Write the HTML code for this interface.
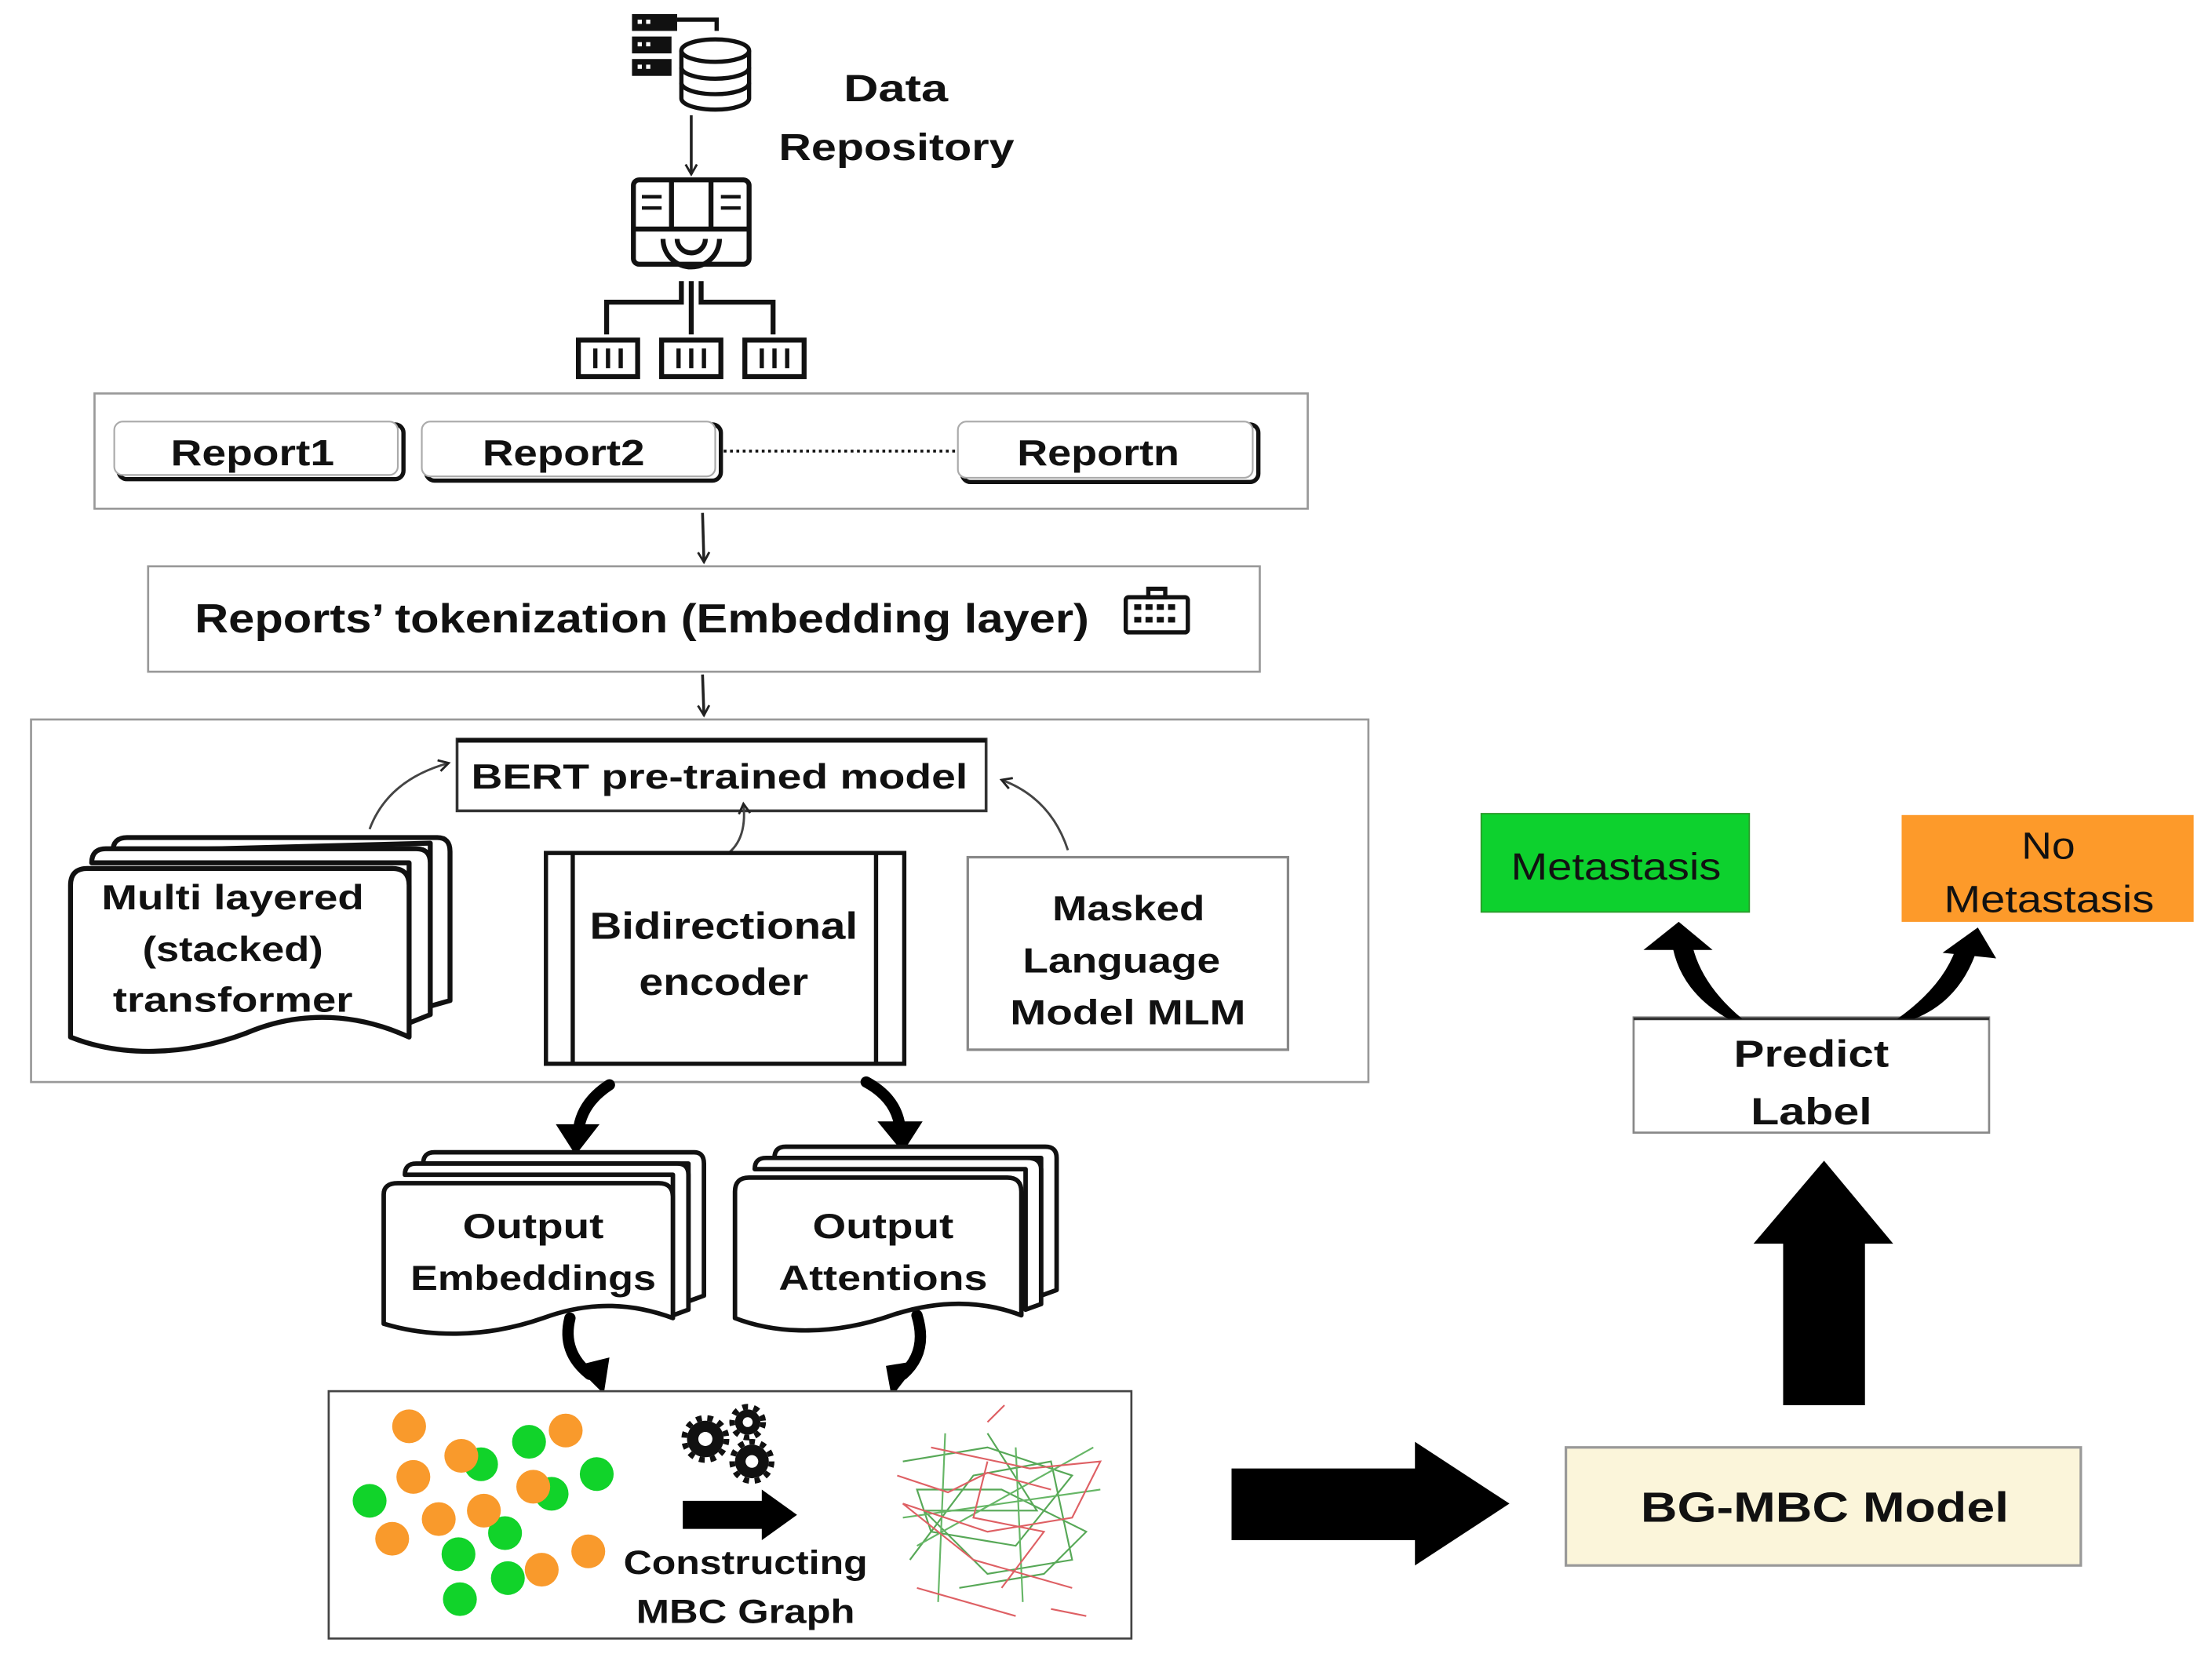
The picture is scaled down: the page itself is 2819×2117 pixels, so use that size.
<!DOCTYPE html>
<html><head><meta charset="utf-8"><style>
html,body{margin:0;padding:0;background:#fff;}
svg{display:block;}
text{font-family:"Liberation Sans",sans-serif;fill:#111;}
</style></head><body>
<svg width="2819" height="2117" viewBox="0 0 1568 1182" preserveAspectRatio="none" xmlns="http://www.w3.org/2000/svg">
<defs>
<marker id="ah" markerWidth="10" markerHeight="10" refX="8" refY="5" orient="auto" markerUnits="userSpaceOnUse"><path d="M1,1 L8,5 L1,9" fill="none" stroke="#222" stroke-width="1.6"/></marker>
</defs>
<rect width="1568" height="1182" fill="#fff"/>

<!-- DB icon -->
<g fill="#111">
<rect x="448" y="10" width="32" height="12"/><rect x="448" y="26" width="28" height="12"/><rect x="448" y="42" width="28" height="12"/>
<rect x="452" y="14" width="3" height="3" fill="#fff"/><rect x="458" y="14" width="3" height="3" fill="#fff"/>
<rect x="452" y="30" width="3" height="3" fill="#fff"/><rect x="458" y="30" width="3" height="3" fill="#fff"/>
<rect x="452" y="46" width="3" height="3" fill="#fff"/><rect x="458" y="46" width="3" height="3" fill="#fff"/>
</g>
<path d="M480,14 L508,14 L508,22" fill="none" stroke="#111" stroke-width="3"/>
<g fill="#fff" stroke="#111" stroke-width="3">
<path d="M483,36 L483,70 A24,8 0 0 0 531,70 L531,36"/>
<ellipse cx="507" cy="36" rx="24" ry="8"/>
<path d="M483,48 A24,8 0 0 0 531,48 M483,59 A24,8 0 0 0 531,59" fill="none"/>
</g>
<text x="598" y="72" font-size="27" font-weight="bold" textLength="74" lengthAdjust="spacingAndGlyphs">Data</text>
<text x="552" y="114" font-size="27" font-weight="bold" textLength="167" lengthAdjust="spacingAndGlyphs">Repository</text>
<line x1="490" y1="82" x2="490" y2="124" stroke="#222" stroke-width="2" marker-end="url(#ah)"/>

<!-- server icon -->
<g fill="none" stroke="#111" stroke-width="3.5">
<rect x="449" y="128" width="82" height="60" rx="4"/>
<line x1="449" y1="163" x2="531" y2="163"/>
<line x1="476" y1="128" x2="476" y2="163"/><line x1="504" y1="128" x2="504" y2="163"/>
<path d="M470,170 A20,20 0 0 0 510,170"/><path d="M480,170 A10,10 0 0 0 500,170"/>
<line x1="455" y1="140" x2="469" y2="140" stroke-width="2.5"/><line x1="455" y1="148" x2="469" y2="148" stroke-width="2.5"/>
<line x1="511" y1="140" x2="525" y2="140" stroke-width="2.5"/><line x1="511" y1="148" x2="525" y2="148" stroke-width="2.5"/>
<line x1="490" y1="200" x2="490" y2="238"/>
<path d="M483,200 L483,215 L430,215 L430,238"/>
<path d="M497,200 L497,215 L548,215 L548,238"/>
<rect x="410" y="242" width="42" height="26"/><rect x="469" y="242" width="42" height="26"/><rect x="528" y="242" width="42" height="26"/>
</g>
<g stroke="#111" stroke-width="3">
<line x1="422" y1="248" x2="422" y2="262"/><line x1="431" y1="248" x2="431" y2="262"/><line x1="440" y1="248" x2="440" y2="262"/>
<line x1="481" y1="248" x2="481" y2="262"/><line x1="490" y1="248" x2="490" y2="262"/><line x1="499" y1="248" x2="499" y2="262"/>
<line x1="540" y1="248" x2="540" y2="262"/><line x1="549" y1="248" x2="549" y2="262"/><line x1="558" y1="248" x2="558" y2="262"/>
</g>

<!-- reports -->
<rect x="67" y="280" width="860" height="82" fill="none" stroke="#999" stroke-width="1.5"/>
<g fill="#fff" stroke="#111">
<rect x="84" y="302" width="202" height="39" rx="6" stroke-width="3"/>
<rect x="81" y="300" width="201" height="38" rx="6" stroke="#aaa" stroke-width="1.2"/>
<rect x="302" y="302" width="209" height="40" rx="6" stroke-width="3"/>
<rect x="299" y="300" width="208" height="39" rx="6" stroke="#aaa" stroke-width="1.2"/>
<rect x="682" y="302" width="210" height="41" rx="6" stroke-width="3"/>
<rect x="679" y="300" width="209" height="40" rx="6" stroke="#aaa" stroke-width="1.2"/>
</g>
<text x="121" y="331" font-size="26" font-weight="bold" textLength="116" lengthAdjust="spacingAndGlyphs">Report1</text>
<text x="342" y="331" font-size="26" font-weight="bold" textLength="115" lengthAdjust="spacingAndGlyphs">Report2</text>
<text x="721" y="331" font-size="26" font-weight="bold" textLength="115" lengthAdjust="spacingAndGlyphs">Reportn</text>
<line x1="513" y1="321" x2="677" y2="321" stroke="#111" stroke-width="2" stroke-dasharray="2,2.5"/>
<line x1="498" y1="365" x2="499" y2="400" stroke="#222" stroke-width="2" marker-end="url(#ah)"/>

<!-- tokenization -->
<rect x="105" y="403" width="788" height="75" fill="none" stroke="#999" stroke-width="1.5"/>
<text x="138" y="450" font-size="29" font-weight="bold" textLength="634" lengthAdjust="spacingAndGlyphs">Reports’ tokenization (Embedding layer)</text>
<g fill="none" stroke="#111" stroke-width="3">
<rect x="798" y="425" width="44" height="25" rx="2"/><rect x="814" y="419" width="12" height="6"/>
</g>
<g fill="#111"><rect x="804" y="430" width="5" height="4"/><rect x="812" y="430" width="5" height="4"/><rect x="820" y="430" width="5" height="4"/><rect x="828" y="430" width="5" height="4"/>
<rect x="804" y="439" width="5" height="4"/><rect x="812" y="439" width="5" height="4"/><rect x="820" y="439" width="5" height="4"/><rect x="828" y="439" width="5" height="4"/></g>
<line x1="498" y1="480" x2="499" y2="509" stroke="#222" stroke-width="2" marker-end="url(#ah)"/>

<!-- BERT container -->
<rect x="22" y="512" width="948" height="258" fill="none" stroke="#999" stroke-width="1.5"/>
<rect x="324" y="526" width="375" height="51" fill="#fff" stroke="#333" stroke-width="2"/>
<line x1="324" y1="527" x2="699" y2="527" stroke="#111" stroke-width="3"/>
<text x="334" y="561" font-size="25" font-weight="bold" textLength="352" lengthAdjust="spacingAndGlyphs">BERT pre-trained model</text>
<path d="M262,590 Q275,555 318,543" fill="none" stroke="#444" stroke-width="1.6" marker-end="url(#ah)"/>
<path d="M757,605 Q745,568 710,555" fill="none" stroke="#444" stroke-width="1.6" marker-end="url(#ah)"/>
<path d="M512,610 Q530,600 527,572" fill="none" stroke="#444" stroke-width="1.6" marker-end="url(#ah)"/>

<!-- multi layered doc stack -->
<g fill="#fff" stroke="#111" stroke-width="3.5" stroke-linejoin="round">
<path d="M80,606 Q80,596 90,596 L310,596 Q319,596 319,606 L319,712 L305,716 L305,600 Z"/>
<path d="M65,614 Q65,604 75,604 L295,604 Q305,604 305,614 L305,722 L290,728 L290,614 Z"/>
<path d="M50,630 Q50,618 62,618 L278,618 Q290,618 290,630 L290,738 C255,722 215,718 175,735 C130,752 85,752 50,738 Z"/>
</g>
<text x="72" y="647" font-size="25" font-weight="bold" textLength="186" lengthAdjust="spacingAndGlyphs">Multi layered</text>
<text x="101" y="684" font-size="25" font-weight="bold" textLength="128" lengthAdjust="spacingAndGlyphs">(stacked)</text>
<text x="80" y="720" font-size="25" font-weight="bold" textLength="170" lengthAdjust="spacingAndGlyphs">transformer</text>

<!-- Bidirectional -->
<rect x="387" y="607" width="254" height="150" fill="#fff" stroke="#111" stroke-width="3"/>
<line x1="406" y1="607" x2="406" y2="757" stroke="#111" stroke-width="3"/>
<line x1="621" y1="607" x2="621" y2="757" stroke="#111" stroke-width="3"/>
<text x="418" y="668" font-size="27" font-weight="bold" textLength="190" lengthAdjust="spacingAndGlyphs">Bidirectional</text>
<text x="453" y="708" font-size="27" font-weight="bold" textLength="120" lengthAdjust="spacingAndGlyphs">encoder</text>

<!-- Masked -->
<rect x="686" y="610" width="227" height="137" fill="#fff" stroke="#888" stroke-width="1.8"/>
<text x="746" y="655" font-size="25" font-weight="bold" textLength="108" lengthAdjust="spacingAndGlyphs">Masked</text>
<text x="725" y="692" font-size="25" font-weight="bold" textLength="140" lengthAdjust="spacingAndGlyphs">Language</text>
<text x="716" y="729" font-size="25" font-weight="bold" textLength="167" lengthAdjust="spacingAndGlyphs">Model MLM</text>

<!-- curved thick arrows from encoder -->
<g fill="none" stroke="#000" stroke-width="8" stroke-linecap="round">
<path d="M432,772 Q412,785 410,805"/>
<path d="M614,770 Q636,782 638,803"/>
<path d="M404,938 Q398,962 418,978"/>
<path d="M650,936 Q658,962 640,978"/>
</g>
<g fill="#000">
<polygon points="394,800 425,800 408,822"/>
<polygon points="622,798 654,798 640,820"/>
<polygon points="408,972 432,966 428,992"/>
<polygon points="628,972 652,968 632,994"/>
</g>

<!-- Output Embeddings stack -->
<g fill="#fff" stroke="#111" stroke-width="3.2" stroke-linejoin="round">
<path d="M300,828 Q300,820 308,820 L492,820 Q499,820 499,828 L499,922 L488,926 L488,828 Z"/>
<path d="M287,836 Q287,828 295,828 L480,828 Q488,828 488,836 L488,932 L477,936 L477,836 Z"/>
<path d="M272,850 Q272,842 282,842 L467,842 Q477,842 477,852 L477,938 C450,928 420,925 385,938 C345,952 305,952 272,942 Z"/>
</g>
<text x="328" y="881" font-size="25" font-weight="bold" textLength="100" lengthAdjust="spacingAndGlyphs">Output</text>
<text x="291" y="918" font-size="25" font-weight="bold" textLength="174" lengthAdjust="spacingAndGlyphs">Embeddings</text>

<!-- Output Attentions stack -->
<g fill="#fff" stroke="#111" stroke-width="3.2" stroke-linejoin="round">
<path d="M549,824 Q549,816 557,816 L741,816 Q749,816 749,824 L749,918 L738,922 L738,824 Z"/>
<path d="M535,832 Q535,824 543,824 L728,824 Q738,824 738,832 L738,928 L727,932 L727,832 Z"/>
<path d="M521,848 Q521,838 531,838 L714,838 Q724,838 724,848 L724,936 C698,926 668,924 632,936 C592,950 552,950 521,938 Z"/>
</g>
<text x="576" y="881" font-size="25" font-weight="bold" textLength="100" lengthAdjust="spacingAndGlyphs">Output</text>
<text x="552" y="918" font-size="25" font-weight="bold" textLength="148" lengthAdjust="spacingAndGlyphs">Attentions</text>

<!-- Graph box -->
<rect x="233" y="990" width="569" height="176" fill="#fff" stroke="#444" stroke-width="1.5"/>
<g fill="#11d32a">
<circle cx="341" cy="1042" r="12"/><circle cx="375" cy="1026" r="12"/><circle cx="423" cy="1049" r="12"/><circle cx="262" cy="1068" r="12"/><circle cx="391" cy="1063" r="12"/><circle cx="358" cy="1091" r="12"/><circle cx="325" cy="1106" r="12"/><circle cx="360" cy="1123" r="12"/><circle cx="326" cy="1138" r="12"/>
</g>
<g fill="#f99a2c">
<circle cx="290" cy="1015" r="12"/><circle cx="327" cy="1036" r="12"/><circle cx="293" cy="1051" r="12"/><circle cx="401" cy="1018" r="12"/><circle cx="378" cy="1058" r="12"/><circle cx="311" cy="1081" r="12"/><circle cx="343" cy="1075" r="12"/><circle cx="278" cy="1095" r="12"/><circle cx="417" cy="1104" r="12"/><circle cx="384" cy="1117" r="12"/>
</g>
<!-- gears -->
<g fill="#111">
<circle cx="500" cy="1024" r="13"/><circle cx="530" cy="1012" r="9"/><circle cx="533" cy="1040" r="12"/>
</g>
<g fill="none" stroke="#111" stroke-width="4" stroke-dasharray="4,4">
<circle cx="500" cy="1024" r="15"/><circle cx="530" cy="1012" r="11"/><circle cx="533" cy="1040" r="14"/>
</g>
<g fill="#fff"><circle cx="500" cy="1024" r="5"/><circle cx="530" cy="1012" r="3.5"/><circle cx="533" cy="1040" r="4.5"/></g>
<polygon points="484,1068 540,1068 540,1060 565,1078 540,1096 540,1088 484,1088" fill="#000"/>
<text x="442" y="1120" font-size="24" font-weight="bold" textLength="173" lengthAdjust="spacingAndGlyphs">Constructing</text>
<text x="451" y="1155" font-size="24" font-weight="bold" textLength="155" lengthAdjust="spacingAndGlyphs">MBC Graph</text>
<!-- network -->
<g fill="none" stroke-width="1.2" opacity="0.85">
<path d="M640,1040 L700,1030 L760,1050 L720,1100 L660,1090 L650,1060 L710,1060 L770,1090 L740,1120 L680,1130" stroke="#3a9a3a"/>
<path d="M645,1110 L690,1050 L745,1040 L760,1110 L700,1120 L655,1075 L735,1075 L700,1020" stroke="#3a9a3a"/>
<path d="M670,1020 L665,1140 M720,1030 L725,1140 M640,1080 L780,1060 M650,1100 L775,1030" stroke="#4caa4c"/>
<path d="M660,1030 L730,1045 L780,1040 L760,1080 L700,1090 L640,1070 L690,1110 L760,1130 M700,1040 L690,1080 L740,1090 L710,1130" stroke="#d9454a"/>
<path d="M636,1050 L672,1062 L700,1048 L745,1060 M650,1130 L720,1150 M745,1145 L770,1150 M700,1012 L712,1000" stroke="#d9454a"/>
</g>

<!-- big right arrow -->
<polygon points="873,1045 1003,1045 1003,1026 1070,1070 1003,1114 1003,1096 873,1096" fill="#000"/>

<!-- BG-MBC -->
<rect x="1110" y="1030" width="365" height="84" fill="#fbf5da" stroke="#999" stroke-width="1.8"/>
<text x="1163" y="1083" font-size="30" font-weight="bold" textLength="261" lengthAdjust="spacingAndGlyphs">BG-MBC Model</text>

<!-- up arrow -->
<polygon points="1264,1000 1322,1000 1322,885 1342,885 1293,826 1243,885 1264,885" fill="#000"/>

<!-- Predict Label -->
<rect x="1158" y="724" width="252" height="82" fill="#fff" stroke="#888" stroke-width="1.5"/>
<line x1="1158" y1="725" x2="1410" y2="725" stroke="#333" stroke-width="2"/>
<text x="1229" y="759" font-size="27" font-weight="bold" textLength="110" lengthAdjust="spacingAndGlyphs">Predict</text>
<text x="1241" y="800" font-size="27" font-weight="bold" textLength="86" lengthAdjust="spacingAndGlyphs">Label</text>

<!-- curved arrows to labels -->
<path d="M1225,725 Q1190,705 1185,670 L1199,670 Q1205,700 1235,725 Z" fill="#000"/>
<polygon points="1165,676 1190,656 1214,676" fill="#000"/>
<path d="M1345,725 Q1380,700 1388,670 L1402,674 Q1390,712 1357,725 Z" fill="#000"/>
<polygon points="1377,678 1402,660 1415,682" fill="#000"/>

<!-- Metastasis -->
<rect x="1050" y="579" width="190" height="70" fill="#0dd12e" stroke="#2a9a2a" stroke-width="1"/>
<text x="1071" y="626" font-size="27" textLength="149" lengthAdjust="spacingAndGlyphs">Metastasis</text>
<rect x="1348" y="580" width="207" height="76" fill="#fd9a2a"/>
<text x="1433" y="611" font-size="27" textLength="38" lengthAdjust="spacingAndGlyphs">No</text>
<text x="1378" y="649" font-size="27" textLength="149" lengthAdjust="spacingAndGlyphs">Metastasis</text>
</svg>
</body></html>
